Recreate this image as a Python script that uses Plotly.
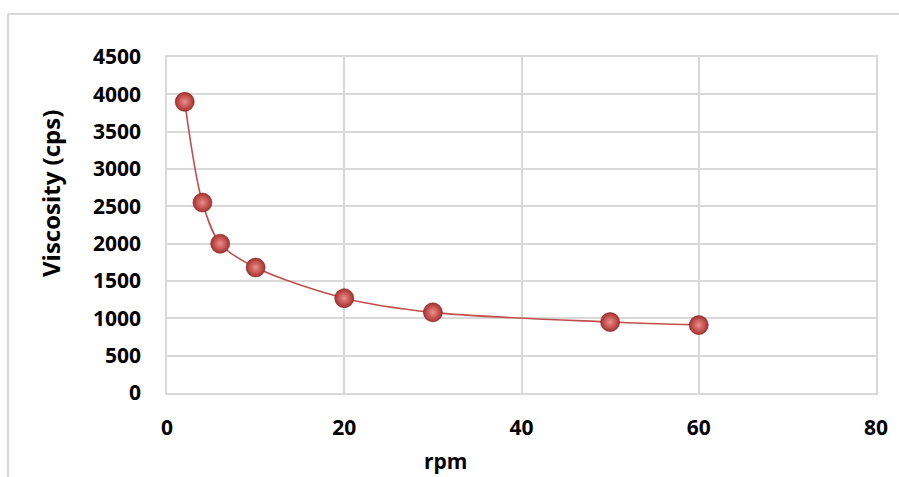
import plotly.graph_objects as go

# Viscosity measured at each spindle speed
rpm = [2, 4, 6, 10, 20, 30, 50, 60]
viscosity = [3900, 2550, 2000, 1680, 1270, 1080, 950, 910]

x_ticks = [0, 20, 40, 60, 80]
y_ticks = [0, 500, 1000, 1500, 2000, 2500, 3000, 3500, 4000, 4500]

W, H = 899, 477
L, R, T, B = 167, 23, 57, 84
grid = "#d9d9d9"
red = "#c0504d"
font_family = "Open Sans"

fig = go.Figure()
fig.add_trace(go.Scatter(
    x=rpm, y=viscosity, mode="lines+markers",
    line=dict(color=red, width=1.6, shape="spline", smoothing=0.9),
    marker=dict(size=19, color="#a8302d",
                gradient=dict(type="radial", color="#ec8e8a"),
                line=dict(color="#7d2220", width=0.6)),
    showlegend=False, hoverinfo="x+y",
))

axis_font = dict(family=font_family, size=21, color="#000000", weight="bold")

fig.update_xaxes(
    range=[0, 80], tickvals=x_ticks, ticktext=[str(v) for v in x_ticks],
    showgrid=True, gridcolor=grid, gridwidth=1.5,
    showline=True, linecolor=grid, linewidth=1.5, mirror=True,
    zeroline=False, ticks="", ticklabelstandoff=15,
    tickfont=axis_font,
)
fig.update_yaxes(
    range=[0, 4500], tickvals=y_ticks, ticktext=[str(v) for v in y_ticks],
    showgrid=True, gridcolor=grid, gridwidth=1.5,
    showline=True, linecolor=grid, linewidth=1.5, mirror=True,
    zeroline=False, ticks="", ticklabelstandoff=20,
    tickfont=axis_font,
)

pw, ph = W - L - R, H - T - B

def px_x(p):
    return (p - L) / pw

def px_y(p):
    return (H - B - p) / ph

annotations = [
    dict(text="<b>rpm</b>", x=px_x(445), y=px_y(461), xref="paper", yref="paper",
         showarrow=False, xanchor="center", yanchor="middle",
         font=dict(family=font_family, size=21, color="#000000")),
    dict(text="<b>Viscosity (cps)</b>", x=px_x(50), y=px_y(194), xref="paper", yref="paper",
         showarrow=False, xanchor="center", yanchor="middle", textangle=-90,
         font=dict(family=font_family, size=24, color="#000000")),
]

# Chart-area frame: left and top edges
shapes = [
    dict(type="line", xref="paper", yref="paper",
         x0=px_x(8), x1=px_x(8), y0=px_y(14), y1=px_y(480),
         line=dict(color=grid, width=2)),
    dict(type="line", xref="paper", yref="paper",
         x0=px_x(8), x1=px_x(905), y0=px_y(14), y1=px_y(14),
         line=dict(color=grid, width=2)),
]

fig.update_layout(
    width=W, height=H,
    margin=dict(l=L, r=R, t=T, b=B, pad=0),
    paper_bgcolor="#ffffff", plot_bgcolor="#ffffff",
    annotations=annotations, shapes=shapes,
    font=dict(family=font_family),
)

fig.write_html("out.html")
